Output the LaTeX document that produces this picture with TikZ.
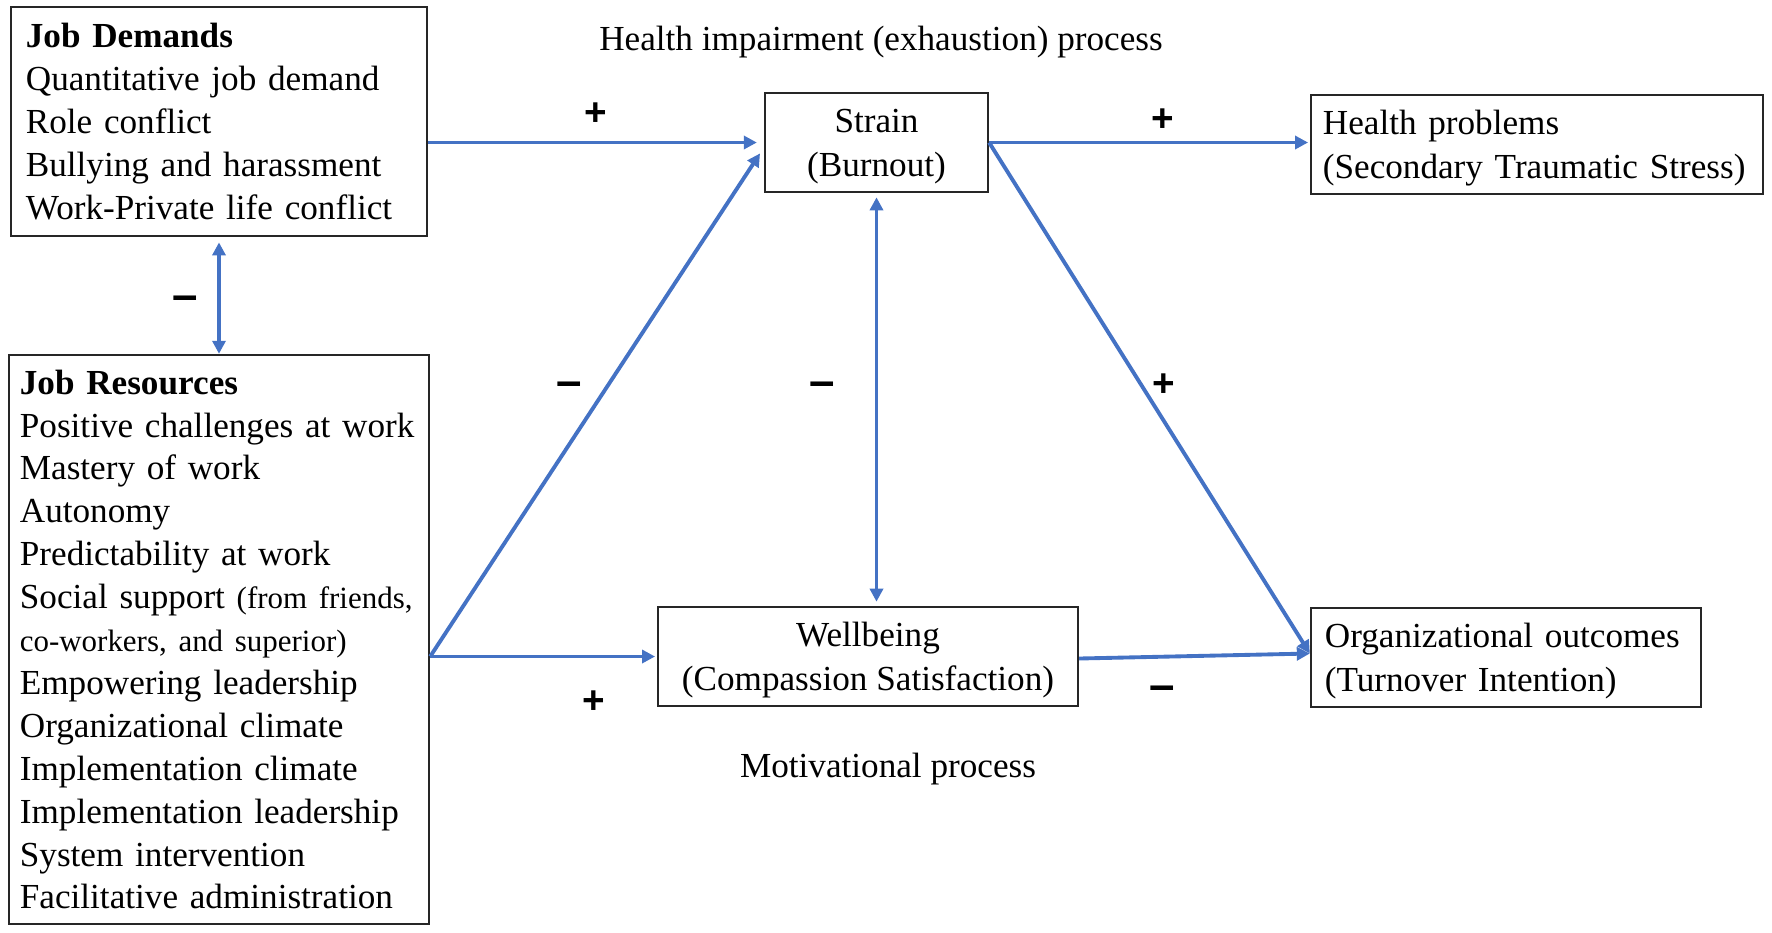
\documentclass[tikz,border=0pt]{standalone}
\usepackage{fontspec}
\setmainfont{Liberation Serif}
\newfontfamily\signfont{Liberation Sans}
\usepackage{tikz}
\usetikzlibrary{arrows.meta, positioning, calc}
\definecolor{pathblue}{RGB}{68,114,196}

\begin{document}
\begin{tikzpicture}[x=0.01cm, y=-0.01cm,
    % Box styles
    box/.style={rectangle, draw=black!85, line width=0.6pt, font=\fontsize{10}{12.2}\selectfont, inner ysep=2pt},
    listbox/.style={box, align=left, inner xsep=0.15cm},
    pairbox/.style={box, minimum height=0.99cm, text depth=0pt, font=\fontsize{10}{12.6}\selectfont},
    sidebox/.style={pairbox, align=left, text depth=12.6pt},
    proc/.style={font=\fontsize{10}{12}\selectfont},
    % Connector styles
    arrow/.style={-{Triangle[length=1.3mm, width=1.3mm]}, draw=pathblue, line width=1.1pt, shorten >=0.5pt},
    dblarrow/.style={arrow, {Triangle[length=1.3mm, width=1.3mm]}-{Triangle[length=1.3mm, width=1.3mm]}, shorten <=1.5pt},
    plus/.style={font=\signfont\bfseries\fontsize{11}{13}\selectfont, inner sep=0pt},
    minus/.style={font=\signfont\bfseries\fontsize{13}{15}\selectfont, inner sep=0pt}
]

\useasboundingbox (0,0) rectangle (1772,932);

% Left column
\node[listbox, text width=3.86cm, minimum height=2.29cm] (demands) at (219,121.5) {%
  \textbf{Job Demands}\\
  Quantitative job demand\\
  Role conflict\\
  Bullying and harassment\\
  Work-Private life conflict};
\node[listbox, text width=3.98cm, inner xsep=0.11cm, minimum height=5.69cm] (resources) at (219,639.5) {%
  \textbf{Job Resources}\\
  Positive challenges at work\\
  Mastery of work\\
  Autonomy\\
  Predictability at work\\
  Social support {\fontsize{8.8}{11}\selectfont (from friends,}\\
  {\fontsize{8.8}{11}\selectfont co-workers, and superior)}\\
  Empowering leadership\\
  Organizational climate\\
  Implementation climate\\
  Implementation leadership\\
  System intervention\\
  Facilitative administration};

% Middle column
\node[pairbox, align=center, minimum width=2.23cm] (strain) at (876.5,142.5) {Strain\\(Burnout)};
\node[pairbox, align=center, minimum width=4.20cm] (wellbeing) at (868,656.5) {Wellbeing\\(Compassion Satisfaction)};

% Right column
\node[sidebox, text width=4.28cm, inner xsep=0.12cm] (health) at (1537,144.5) {Health problems\\(Secondary Traumatic Stress)};
\node[sidebox, text width=3.62cm, inner xsep=0.14cm] (outcomes) at (1506,657.5) {Organizational outcomes\\(Turnover Intention)};

% Process labels
\node[proc] (impair) at (881,42) {Health impairment (exhaustion) process};
\node[proc] (motiv) at (888,769) {Motivational process};

% Connections
\coordinate (resout) at (resources.east |- wellbeing.west);

\draw[arrow, shorten >=2pt] (demands.east |- strain.west) -- (strain.west) node[plus, midway, yshift=0.28cm] {+};
\draw[arrow, shorten >=2pt] (resout) -- ([yshift=-0.05cm]strain.west) node[minus, pos=0.54, xshift=-0.41cm, yshift=-0.08cm] {–};
\draw[arrow] (resout) -- (wellbeing.west) node[plus, pos=0.72, yshift=-0.46cm] {+};
\draw[arrow] (strain.east) -- (strain.east -| health.west) node[plus, pos=0.54, yshift=0.22cm] {+};
\draw[arrow, shorten >=0pt] (strain.east) -- ([yshift=0.04cm]outcomes.west) node[plus, pos=0.475, xshift=0.22cm] {+};
\draw[arrow, shorten >=0pt] ([yshift=-0.02cm]wellbeing.east) -- ([yshift=0.04cm]outcomes.west) node[minus, pos=0.36, yshift=-0.36cm] {–};

% Two-way links
\draw[dblarrow, shorten >=1.2pt, shorten <=1.2pt] (strain.south) -- (strain.south |- wellbeing.north) node[minus, pos=0.475, xshift=-0.54cm] {–};
\draw[dblarrow, shorten >=0pt] (demands.south) -- (demands.south |- resources.north) node[minus, midway, xshift=-0.34cm, yshift=-0.08cm] {–};

\end{tikzpicture}
\end{document}
